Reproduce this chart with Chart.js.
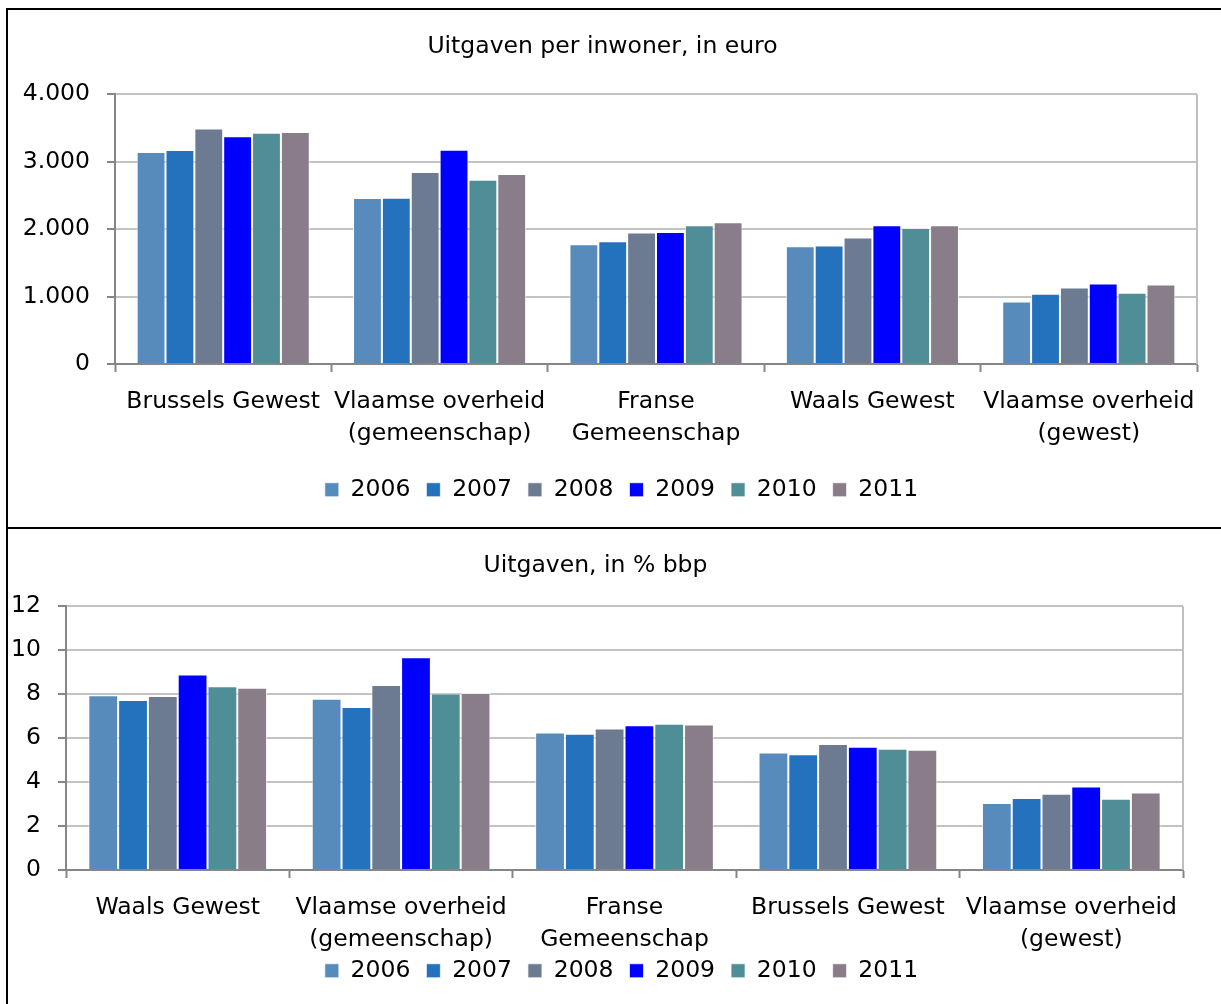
<!DOCTYPE html>
<html>
<head>
<meta charset="utf-8">
<script src="https://cdn.jsdelivr.net/npm/chart.js@4/dist/chart.umd.min.js"></script>
<style>
  html, body { margin: 0; padding: 0; background: #fff; overflow: hidden; }
  body { width: 1221px; height: 1004px; position: relative; }
  .box { position: absolute; border: 2px solid #000; box-sizing: border-box; }
  .wrap { position: absolute; }
</style>
</head>
<body>
<div class="box" style="left:6px; top:8px; width:1230px; height:521px;"></div>
<div class="box" style="left:6px; top:527px; width:1230px; height:500px;"></div>
<div class="wrap" style="left:8px; top:10px; width:1213px; height:516px;"><canvas id="perInwoner"></canvas></div>
<div class="wrap" style="left:8px; top:530px; width:1213px; height:490px;"><canvas id="pctBbp"></canvas></div>
<script>
// ---- data ----
const years = ["2006", "2007", "2008", "2009", "2010", "2011"];
const yearColors = ["#568bbc", "#2471be", "#6d7b92", "#0000ff", "#4f8e97", "#897d8a"];

const topCategories = [
    "Brussels Gewest",
    ["Vlaamse overheid", "(gemeenschap)"],
    ["Franse", "Gemeenschap"],
    "Waals Gewest",
    ["Vlaamse overheid", "(gewest)"]
];
const top2006 = [3142, 2460, 1775, 1746, 927];
const top2007 = [3172, 2466, 1820, 1756, 1042];
const top2008 = [3490, 2846, 1949, 1875, 1135];
const top2009 = [3375, 3178, 1958, 2058, 1195];
const top2010 = [3430, 2733, 2058, 2018, 1057];
const top2011 = [3439, 2816, 2103, 2058, 1180];
const topTickLabels = ["0", "1.000", "2.000", "3.000", "4.000"];

const bottomCategories = [
    "Waals Gewest",
    ["Vlaamse overheid", "(gemeenschap)"],
    ["Franse", "Gemeenschap"],
    "Brussels Gewest",
    ["Vlaamse overheid", "(gewest)"]
];
const bottom2006 = [7.95, 7.79, 6.26, 5.35, 3.05];
const bottom2007 = [7.73, 7.42, 6.20, 5.26, 3.27];
const bottom2008 = [7.91, 8.41, 6.44, 5.73, 3.47];
const bottom2009 = [8.89, 9.68, 6.58, 5.61, 3.80];
const bottom2010 = [8.36, 8.03, 6.65, 5.52, 3.24];
const bottom2011 = [8.29, 8.05, 6.62, 5.47, 3.52];
const bottomTickLabels = ["0", "2", "4", "6", "8", "10", "12"];

// ---- shared look ----
const FONT = "'DejaVu Sans', Tahoma, sans-serif";
const FS = 23.5;
Chart.defaults.font.family = FONT;
Chart.defaults.color = "#000";

// light grey right edge of the plot area
const plotFrame = {
    id: "plotFrame",
    afterDraw(chart) {
        const a = chart.chartArea;
        const c = chart.ctx;
        c.save();
        c.strokeStyle = "#bfbfbf";
        c.lineWidth = 2;
        c.beginPath();
        c.moveTo(a.right, a.top);
        c.lineTo(a.right, a.bottom);
        c.stroke();
        c.restore();
    }
};

// nudge the legend after layout (the x labels need their full box)
const legendShift = {
    id: "legendShift",
    afterLayout(chart, args, opts) {
        const l = chart.legend;
        if (!l) return;
        l.top += opts.dy || 0;
        l.bottom += opts.dy || 0;
        l.left += opts.dx || 0;
        l.right += opts.dx || 0;
    }
};

function makeDatasets(series) {
    return series.map((values, i) => ({
        label: years[i],
        data: values,
        backgroundColor: yearColors[i],
        borderColor: "rgba(255,255,255,0.7)",
        borderWidth: 1,
        categoryPercentage: 0.8,
        barPercentage: 1.0
    }));
}

function makeChart(id, labels, series, yMax, yStep, tickLabels, title, L) {
    new Chart(document.getElementById(id), {
        type: "bar",
        data: { labels: labels, datasets: makeDatasets(series) },
        options: {
            responsive: true,
            maintainAspectRatio: false,
            animation: false,
            layout: { padding: { left: 0, right: L.right, top: 0, bottom: L.bottom } },
            plugins: {
                title: {
                    display: true,
                    text: title,
                    font: { size: FS, weight: "normal", lineHeight: 1.2 },
                    padding: { top: L.titleTop, bottom: L.titleBottom }
                },
                legend: {
                    position: "bottom",
                    labels: {
                        boxWidth: 14,
                        boxHeight: 14,
                        padding: 16,
                        font: { size: FS }
                    }
                },
                legendShift: { dx: L.legendDx, dy: L.legendDy },
                tooltip: { enabled: false }
            },
            scales: {
                x: {
                    grid: {
                        display: true,
                        drawOnChartArea: false,
                        drawTicks: true,
                        tickLength: 8,
                        tickColor: "#868686",
                        tickWidth: 2,
                        offset: true
                    },
                    border: { color: "#868686", width: 2 },
                    ticks: {
                        autoSkip: false,
                        maxRotation: 0,
                        minRotation: 0,
                        padding: L.xPad,
                        font: { size: FS, lineHeight: 1.36 }
                    },
                    afterFit: s => { s.height = L.xHeight; }
                },
                y: {
                    min: 0,
                    max: yMax,
                    ticks: {
                        stepSize: yStep,
                        padding: 17,
                        font: { size: FS },
                        callback: (v, i) => tickLabels[i]
                    },
                    grid: {
                        color: "#c3c3c3",
                        lineWidth: 2,
                        tickLength: 8,
                        tickColor: "#868686",
                        tickWidth: 2
                    },
                    border: { color: "#868686", width: 2 },
                    afterFit: s => { s.width = L.yWidth; }
                }
            }
        },
        plugins: [plotFrame, legendShift]
    });
}

makeChart("perInwoner", topCategories,
    [top2006, top2007, top2008, top2009, top2010, top2011],
    4000, 1000, topTickLabels, "Uitgaven per inwoner, in euro",
    { right: 24, bottom: 20.5, titleTop: 23, titleBottom: 33, xPad: 14, xHeight: 92, yWidth: 107, legendDx: 19, legendDy: 6 });

makeChart("pctBbp", bottomCategories,
    [bottom2006, bottom2007, bottom2008, bottom2009, bottom2010, bottom2011],
    12, 2, bottomTickLabels, "Uitgaven, in % bbp",
    { right: 38, bottom: 12.5, titleTop: 22, titleBottom: 26, xPad: 14, xHeight: 88, yWidth: 58, legendDx: 26, legendDy: -15 });
</script>
</body>
</html>
